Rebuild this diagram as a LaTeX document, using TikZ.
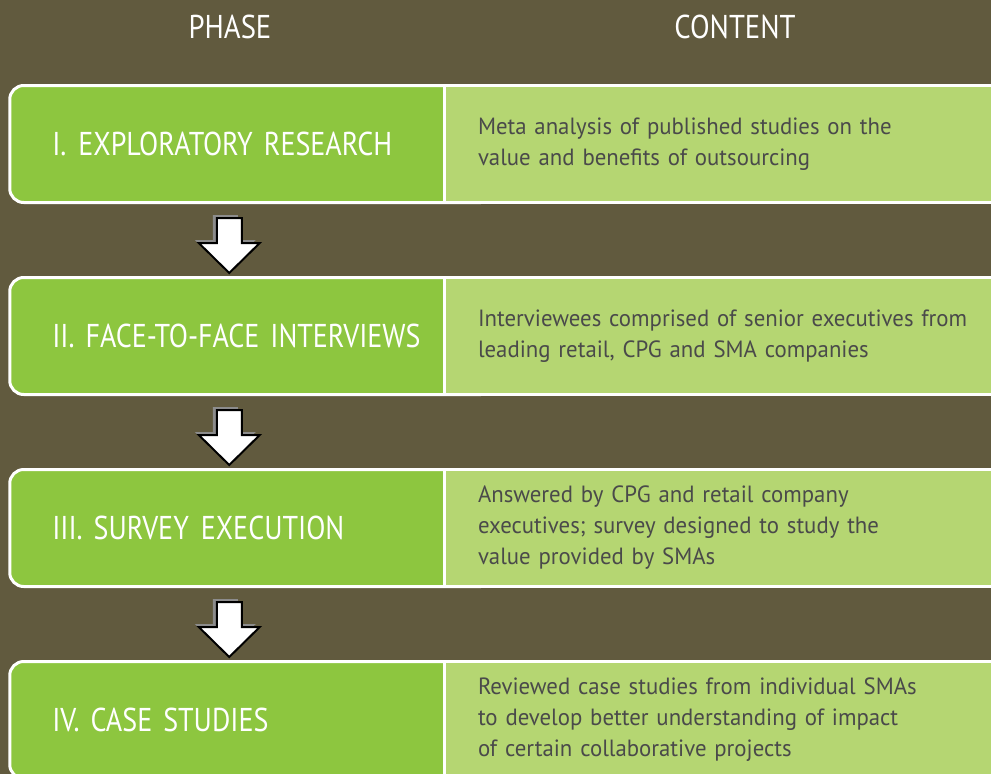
\documentclass[tikz,border=0pt]{standalone}
\usepackage{fontspec}
\newfontfamily\phasefont[FakeStretch=0.85]{PT Sans}
\newfontfamily\headfont[FakeStretch=0.87]{PT Sans}
\newfontfamily\contentfont[FakeStretch=0.97]{PT Sans}
\usetikzlibrary{positioning}
\usetikzlibrary{calc}
\definecolor{bgolive}{HTML}{615A3E}
\definecolor{phasegreen}{HTML}{8DC63F}
\definecolor{contentgreen}{HTML}{B5D672}
\definecolor{textgray}{HTML}{4A4A4A}
\definecolor{shadowgray}{HTML}{8C8C8C}

\begin{document}
\begin{tikzpicture}
    [
    x=1pt, y=-1pt,
    phase/.style={
        rectangle,
        draw=white,
        line width=3pt,
        fill=phasegreen,
        rounded corners=14pt,
        minimum height=117pt,
        text width=400pt,
        inner xsep=42.5pt,
        inner ysep=0pt,
        align=left, % text starts at the left edge
        text=white,
        font=\phasefont\fontsize{33}{38}\selectfont
    },
    content/.style={
        rectangle,
        draw=white,
        line width=3pt,
        fill=contentgreen,
        minimum height=117pt,
        text width=540pt,
        inner xsep=34pt,
        inner ysep=0pt,
        align=left,
        text=textgray,
        font=\contentfont\fontsize{23.5}{31}\selectfont
    },
    header/.style={
        text=white,
        font=\headfont\fontsize{33}{38}\selectfont
    },
    flowarrow/.style={
        draw=black,
        line width=2pt,
        fill=white
    },
    flowshadow/.style={
        fill=shadowgray
    },
    ]

    \clip (0,0) rectangle (991,774);
    \fill[bgolive] (0,0) rectangle (991,774);

    \node[header] (hphase) at (230,27) {PHASE};
    \node[header] (hcontent) at (735,27) {CONTENT};

    \node[phase] (p1) at (252.25,144) {I.\hspace{12pt}EXPLORATORY RESEARCH};
    \node[phase, below=72pt of p1] (p2) {II. FACE-TO-FACE INTERVIEWS};
    \node[phase, below=72pt of p2] (p3) {III. SURVEY\hspace{12pt}EXECUTION};
    \node[phase, below=72pt of p3] (p4) {IV. CASE STUDIES};

    \node[content, right=-53.75pt of p1] (c1) {Meta analysis of published studies on the \\ value and benefits of outsourcing};
    \node[content, right=-53.75pt of p2] (c2) {Interviewees comprised of senior executives from \\ leading retail, CPG and SMA companies};
    \node[content, right=-53.75pt of p3] (c3) {Answered by CPG and retail company \\ executives; survey designed to study the \\ value provided by SMAs};
    \node[content, right=-53.75pt of p4] (c4) {Reviewed case studies from individual SMAs \\ to develop better understanding of impact \\ of certain collaborative projects};

    % block arrows between the phases
    \foreach \a in {p1,p2,p3} {
        \fill[flowshadow, shift={($(\a.south west)+(217,-3)$)}]
            (-12.5,14) -- (-12.5,39) -- (-30.5,39) -- (0,69) -- (30.5,39) -- (12.5,39) -- (12.5,14) -- cycle;
        \draw[flowarrow, shift={($(\a.south west)+(221,0)$)}]
            (-12.5,14) -- (-12.5,39) -- (-30.5,39) -- (0,69) -- (30.5,39) -- (12.5,39) -- (12.5,14) -- cycle;
    }

\end{tikzpicture}
\end{document}
